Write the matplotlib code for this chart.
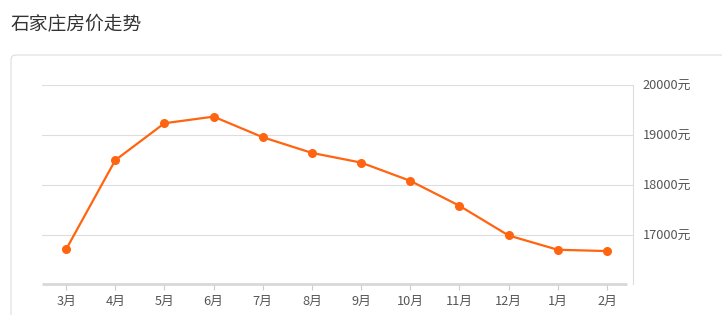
import matplotlib
matplotlib.use('Agg')
from matplotlib import pyplot as plt
from matplotlib.patches import FancyBboxPatch

plt.rcParams['font.family'] = ['Noto Sans CJK SC', 'DejaVu Sans']

months = ['3月', '4月', '5月', '6月', '7月', '8月', '9月', '10月', '11月', '12月', '1月', '2月']
prices = [16710, 18490, 19227, 19359, 18948, 18635, 18442, 18078, 17580, 16988, 16703, 16677]
ytick_values = [17000, 18000, 19000, 20000]
ytick_labels = ['17000元', '18000元', '19000元', '20000元']
title = '石家庄房价走势'


def main():
    fig = plt.figure(figsize=(7.22, 3.15), dpi=100)

    # card frame, kept behind the axes
    card = FancyBboxPatch((0.11, -0.5), 8.0, 3.10,
                          boxstyle='round,pad=0,rounding_size=0.05',
                          transform=fig.dpi_scale_trans,
                          facecolor='white', edgecolor='#dddddd', lw=0.8,
                          zorder=-5)
    fig.patches.append(card)

    fig.text(11 / 722, 1 - 25 / 315, title, fontsize=13.5, color='#333333',
             va='center', ha='left')

    ax = fig.add_axes([42 / 722, 1 - 284 / 315, (633 - 42) / 722, (284 - 84.5) / 315])
    ax.set_facecolor('none')
    x = list(range(len(months)))
    ax.plot(x, prices, color='#ff6410', lw=1.6, marker='o', ms=6.5,
            markeredgewidth=0, zorder=3, clip_on=False)

    ax.set_xlim(-0.49, 11.53)
    ax.set_ylim(16020, 20000)
    ax.set_xticks(x)
    ax.set_xticklabels(months)
    ax.set_yticks(ytick_values)
    ax.set_yticklabels(ytick_labels)
    ax.yaxis.tick_right()
    ax.grid(axis='y', color='#dddddd', lw=0.8)
    ax.set_axisbelow(True)

    for side in ['top', 'left']:
        ax.spines[side].set_visible(False)
    ax.spines['right'].set_color('#dddddd')
    ax.spines['right'].set_linewidth(0.8)
    ax.spines['bottom'].set_visible(False)
    ax.plot([-0.49, 11.41], [16020, 16020], color='#d8d8d8', lw=2.0,
            clip_on=False, zorder=2, solid_capstyle='butt')

    ax.tick_params(axis='x', length=4, width=0.8, color='#cccccc',
                   labelsize=9.2, labelcolor='#555555', pad=4)
    ax.tick_params(axis='y', length=0, labelsize=9.2, labelcolor='#555555', pad=7)

    fig.savefig('out.png', dpi=100)


if __name__ == '__main__':
    main()
